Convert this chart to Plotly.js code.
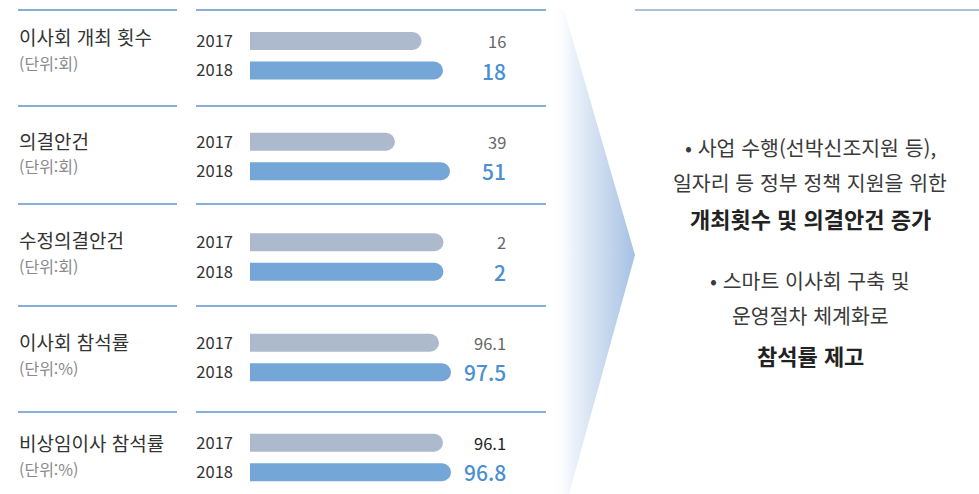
<!DOCTYPE html>
<html lang="ko">
<head>
<meta charset="utf-8">
<script src="https://cdn.plot.ly/plotly-3.0.1.min.js"></script>
<style>
  html, body { margin: 0; padding: 0; background: #fff; }
  #chart { width: 979px; height: 494px; }
</style>
</head>
<body>
<div id="chart"></div>
<script>
// 이사회 운영 지표 (2017 vs 2018)
const metricTitles = ['이사회 개최 횟수', '의결안건', '수정의결안건', '이사회 참석률', '비상임이사 참석률'];
const metricUnits = ['(단위:회)', '(단위:회)', '(단위:회)', '(단위:%)', '(단위:%)'];
const years = ['2017', '2018'];
const values2017 = [16, 39, 2, 96.1, 96.1];
const values2018 = [18, 51, 2, 97.5, 96.8];

// 오른쪽 요약 문구
const summaryLines = [
  '• 사업 수행(선박신조지원 등),',
  '일자리 등 정부 정책 지원을 위한',
  '<b>개최횟수 및 의결안건 증가</b>',
  '• 스마트 이사회 구축 및',
  '운영절차 체계화로',
  '<b>참석률 제고</b>'
];

const W = 979, H = 494;
const FONT = '"Noto Sans CJK KR", "Noto Sans", sans-serif';
const px = x => x / W;
const py = y => 1 - y / H;

const COLOR_PREV = '#adb9cc';
const COLOR_CURR = '#74a6d8';
const LINE_COLOR = '#86b0da';

// 패널 배치 (픽셀 기준)
const panelCenters = [55.75, 156.5, 257, 357.5, 457.5];
const panelRules = [10, 106, 204, 306, 412];
const titleOffset = [-19.5, -16.5, -17, -16.5, -15.5];
const unitOffset = [7.5, 9.5, 9, 10.5, 11.5];
// 각 패널의 값 축 범위
const panelRanges = [[0, 18.75], [7.36, 51.22], [0, 2.078], [74.05, 97.5], [79.2, 96.8]];
const prevValueColors = ['#666666', '#666666', '#666666', '#666666', '#222222'];

const barX0 = 250, barX1 = 451, halfBand = 29.5;
const rows = years.map((_, k) => k);   // 0 = 2017, 1 = 2018

const data = [];
const layout = {
  width: W, height: H,
  margin: {l: 0, r: 0, t: 0, b: 0},
  paper_bgcolor: '#ffffff',
  plot_bgcolor: 'rgba(0,0,0,0)',
  showlegend: false,
  bargap: 0.39,
  font: {family: FONT, color: '#333333'},
  shapes: [],
  annotations: []
};

metricTitles.forEach((title, i) => {
  const n = i + 1;
  const sfx = n === 1 ? '' : String(n);
  const xr = 'x' + sfx, yr = 'y' + sfx;
  const c = panelCenters[i];

  data.push({
    type: 'bar',
    orientation: 'h',
    x: [values2017[i], values2018[i]],
    y: rows,
    xaxis: xr, yaxis: yr,
    marker: {color: [COLOR_PREV, COLOR_CURR], cornerradius: 9},
    hoverinfo: 'skip'
  });

  layout['xaxis' + sfx] = {
    domain: [px(barX0), px(barX1)],
    range: panelRanges[i],
    anchor: yr,
    showgrid: false, zeroline: false, showline: false, showticklabels: false, ticks: '',
    fixedrange: true
  };
  layout['yaxis' + sfx] = {
    domain: [py(c + halfBand), py(c - halfBand)],
    range: [1.5, -0.5],
    anchor: xr,
    showgrid: false, zeroline: false, showline: false,
    ticks: '',
    tickmode: 'array',
    tickvals: rows,
    ticktext: years,
    ticklabelstandoff: 16,
    tickfont: {family: FONT, size: 16.5, color: '#333333'},
    fixedrange: true
  };

  // 구분선
  const ry = panelRules[i];
  layout.shapes.push(
    {type: 'line', xref: 'paper', yref: 'paper', x0: px(18), x1: px(177), y0: py(ry), y1: py(ry),
     line: {color: LINE_COLOR, width: 2}},
    {type: 'line', xref: 'paper', yref: 'paper', x0: px(196), x1: px(546), y0: py(ry), y1: py(ry),
     line: {color: LINE_COLOR, width: 2}}
  );

  // 항목명과 단위
  layout.annotations.push(
    {xref: 'paper', yref: 'paper', x: px(17), y: py(c + titleOffset[i]), xanchor: 'left', yanchor: 'middle',
     text: title, showarrow: false, font: {family: FONT, size: 19, color: '#333333'}},
    {xref: 'paper', yref: 'paper', x: px(17), y: py(c + unitOffset[i]), xanchor: 'left', yanchor: 'middle',
     text: metricUnits[i], showarrow: false, font: {family: FONT, size: 16, color: '#8a8a8a'}}
  );

  // 수치
  layout.annotations.push(
    {xref: 'paper', yref: yr, x: px(508), y: rows[0], xanchor: 'right', yanchor: 'middle',
     text: String(values2017[i]), showarrow: false,
     font: {family: FONT, size: 16.5, color: prevValueColors[i]}},
    {xref: 'paper', yref: yr, x: px(508), y: rows[1], xanchor: 'right', yanchor: 'middle',
     text: String(values2018[i]), showarrow: false,
     font: {family: FONT, size: 21, color: '#4a8fd2', weight: 500}}
  );
});

// 가운데 화살표 (가로 그라데이션)
data.push({
  type: 'scatter',
  mode: 'lines',
  x: [552, 564, 635, 569, 552, 552],
  y: [10, 10, 255, 494, 494, 10],
  xaxis: 'x6', yaxis: 'y6',
  fill: 'toself',
  fillgradient: {
    type: 'horizontal',
    colorscale: [[0, 'rgba(255,255,255,0)'], [0.25, 'rgba(236,242,250,1)'], [1, '#a6c1e4']]
  },
  line: {width: 0},
  hoverinfo: 'skip'
});
layout.xaxis6 = {domain: [0, 1], range: [0, W], visible: false, fixedrange: true, anchor: 'y6'};
layout.yaxis6 = {domain: [0, 1], range: [H, 0], visible: false, fixedrange: true, anchor: 'x6'};

// 오른쪽 상단 선
layout.shapes.push({type: 'line', xref: 'paper', yref: 'paper', x0: px(635), x1: 1, y0: py(10), y1: py(10),
  line: {color: '#a9bfdc', width: 2}});

// 요약 문구
const summaryY = [147, 182, 218, 280, 315, 355];
summaryLines.forEach((t, k) => {
  const bold = t.startsWith('<b>');
  layout.annotations.push({
    xref: 'paper', yref: 'paper', x: px(810), y: py(summaryY[k]), xanchor: 'center', yanchor: 'middle',
    text: t, showarrow: false,
    font: {family: FONT, size: bold ? 22 : 20.5, color: bold ? '#222222' : '#3a3a3a'}
  });
});

Plotly.newPlot('chart', data, layout, {displayModeBar: false, staticPlot: true});
</script>
</body>
</html>
